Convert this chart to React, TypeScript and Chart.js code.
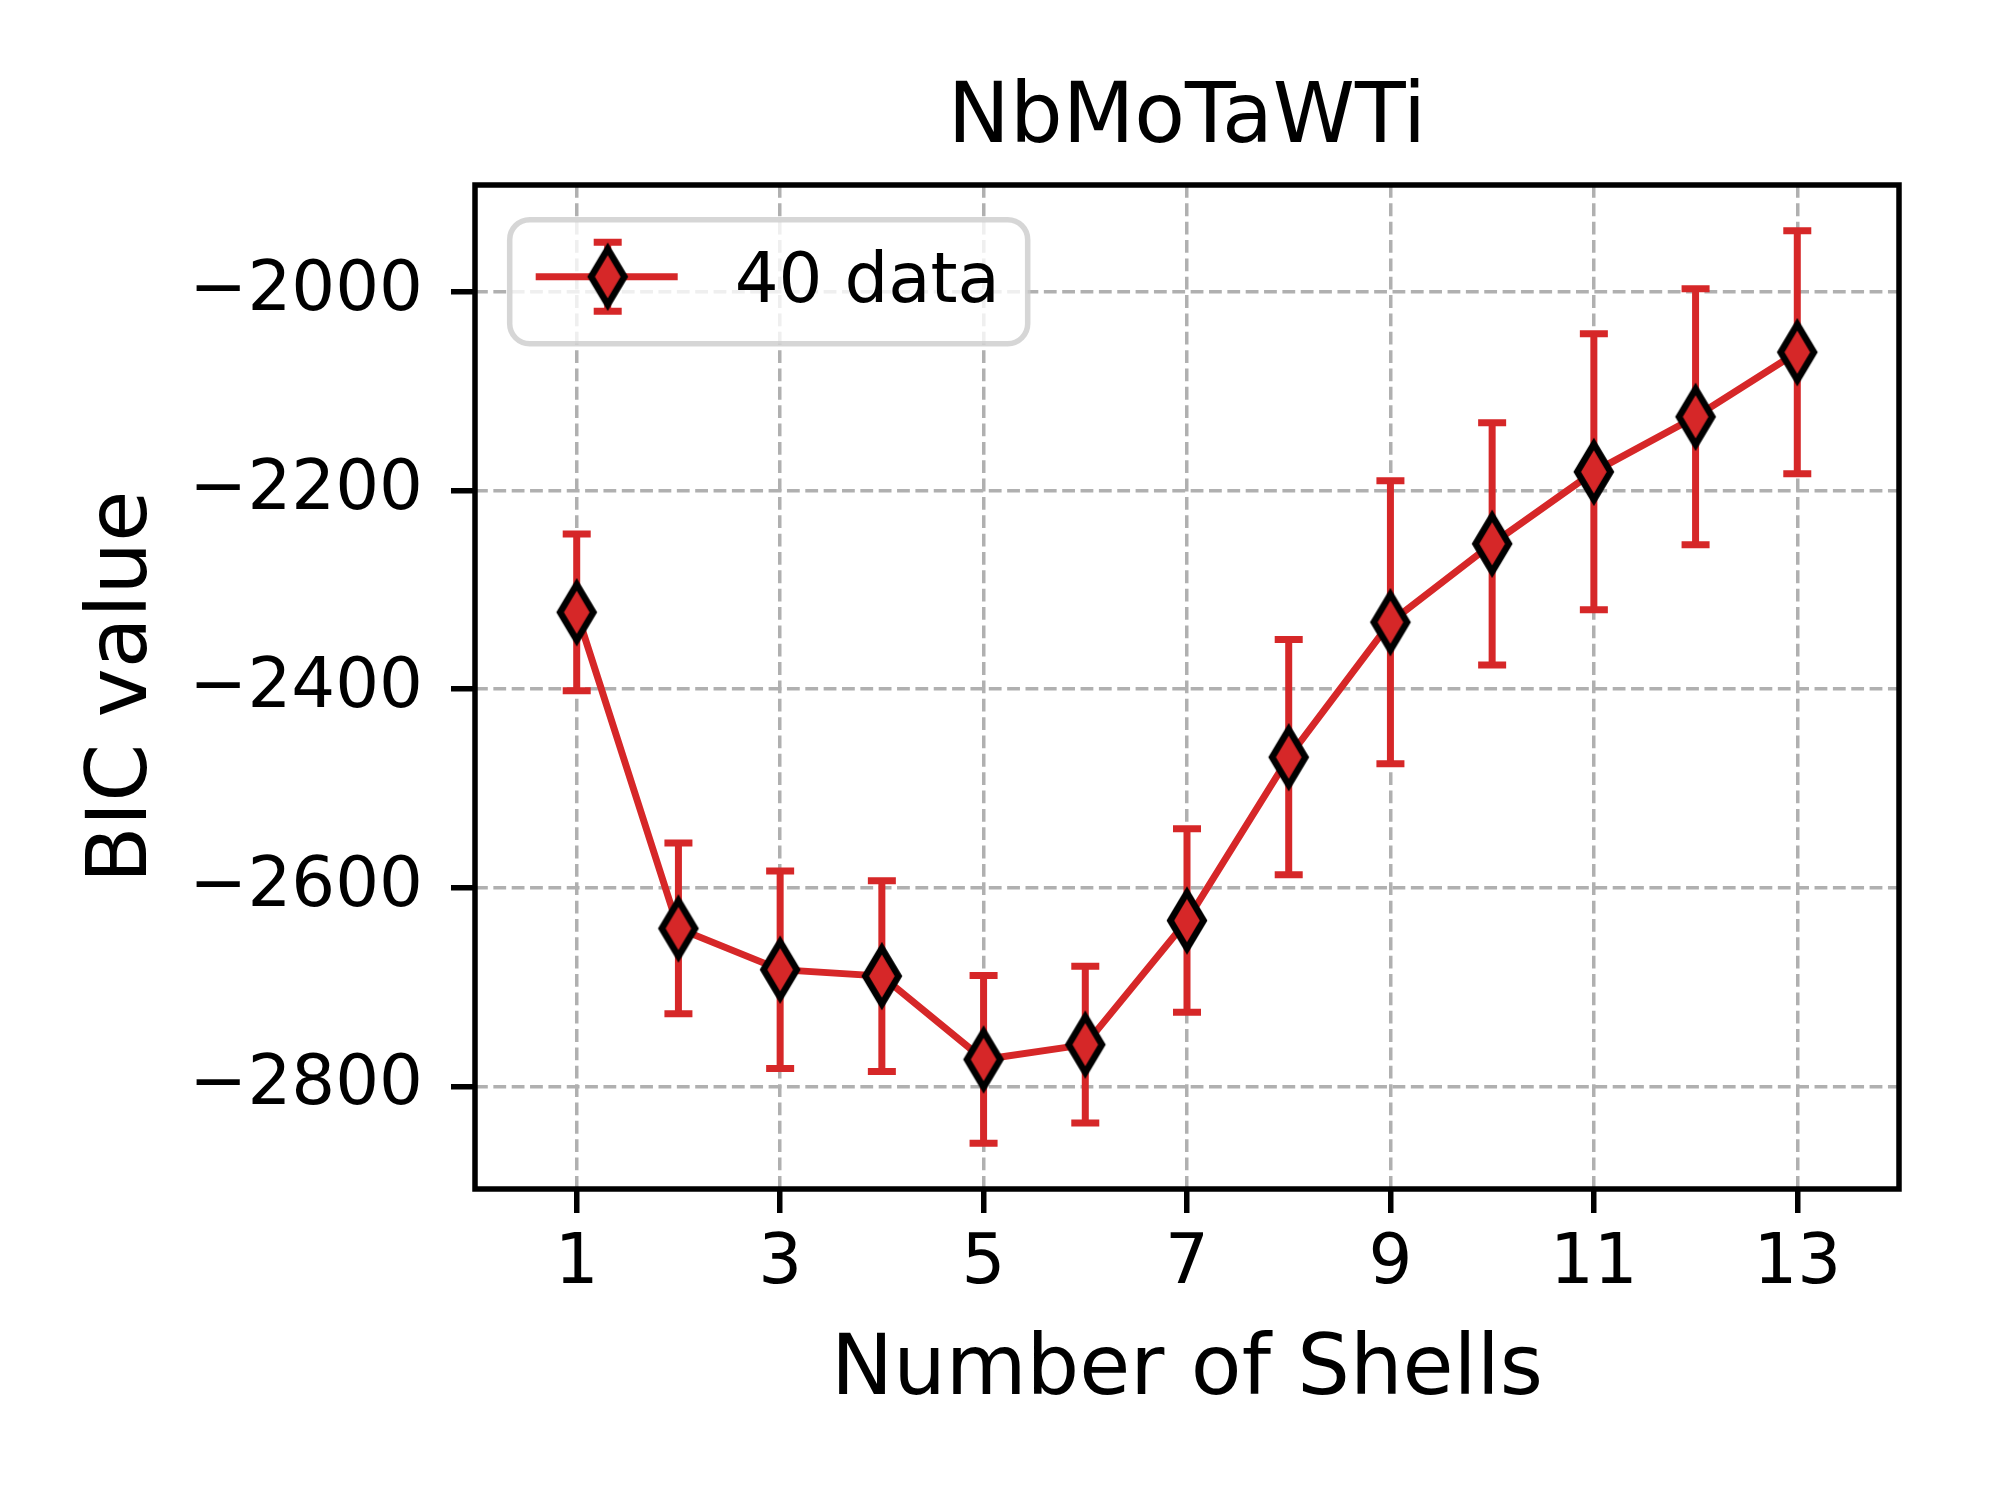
import React, { useEffect, useRef } from 'react';
import { Chart, registerables } from 'chart.js';

Chart.register(...registerables);

// values
const shellCounts = [1, 2, 3, 4, 5, 6, 7, 8, 9, 10, 11, 12, 13];
const bicMean = [-2322.5, -2641, -2682.5, -2689, -2773, -2758, -2633, -2468.5, -2332.5, -2253.5, -2181, -2125.5, -2060.5];
const bicStd = [79, 86, 99.5, 96, 84.5, 79, 92.5, 118.5, 142.5, 122, 139, 129, 122.5];
const xTickValues = [1, 3, 5, 7, 9, 11, 13];
const yTickValues = [-2800, -2600, -2400, -2200, -2000];
const seriesLabel = '40 data';
const chartTitle = 'NbMoTaWTi';
const xAxisLabel = 'Number of Shells';
const yAxisLabel = 'BIC value';

const RED = '#d62728';
const FONT = "'DejaVu Sans', sans-serif";

// matplotlib style 5% margins around the error bars
const lows = bicMean.map((m, i) => m - bicStd[i]);
const highs = bicMean.map((m, i) => m + bicStd[i]);
const yLo = Math.min(...lows);
const yHi = Math.max(...highs);
const yMin = yLo - 0.05 * (yHi - yLo);
const yMax = yHi + 0.05 * (yHi - yLo);

function makeDiamond(): HTMLCanvasElement {
  const w = 33.3;
  const h = 55.6;
  const c = document.createElement('canvas');
  c.width = 48;
  c.height = 72;
  const ctx = c.getContext('2d')!;
  ctx.translate(24, 36);
  ctx.beginPath();
  ctx.moveTo(0, -h / 2);
  ctx.lineTo(w / 2, 0);
  ctx.lineTo(0, h / 2);
  ctx.lineTo(-w / 2, 0);
  ctx.closePath();
  ctx.fillStyle = RED;
  ctx.fill();
  ctx.lineWidth = 6.5;
  ctx.lineJoin = 'miter';
  ctx.strokeStyle = '#000';
  ctx.stroke();
  return c;
}

function drawErrorBar(ctx: CanvasRenderingContext2D, px: number, top: number, bot: number) {
  ctx.beginPath();
  ctx.moveTo(px, top);
  ctx.lineTo(px, bot);
  ctx.moveTo(px - 14, top);
  ctx.lineTo(px + 14, top);
  ctx.moveTo(px - 14, bot);
  ctx.lineTo(px + 14, bot);
  ctx.stroke();
}

const errorBars = {
  id: 'errorBars',
  beforeDatasetsDraw(chart: any) {
    const { ctx, scales } = chart;
    ctx.save();
    ctx.strokeStyle = RED;
    ctx.lineWidth = 7;
    shellCounts.forEach((s, i) => {
      const px = scales.x.getPixelForValue(s);
      drawErrorBar(ctx, px, scales.y.getPixelForValue(highs[i]), scales.y.getPixelForValue(lows[i]));
    });
    ctx.restore();
  },
};

const frameAndLegend = {
  id: 'frameAndLegend',
  afterDatasetsDraw(chart: any) {
    const { ctx, chartArea } = chart;
    const { left, top, right, bottom } = chartArea;
    ctx.save();
    ctx.strokeStyle = '#000';
    ctx.lineWidth = 5.5;
    ctx.strokeRect(left, top, right - left, bottom - top);

    // legend box, upper left
    const bx = left + 34.7;
    const by = top + 34.7;
    const bw = 518;
    const bh = 124;
    ctx.beginPath();
    ctx.roundRect(bx, by, bw, bh, 20);
    ctx.fillStyle = 'rgba(255,255,255,0.8)';
    ctx.fill();
    ctx.lineWidth = 5.5;
    ctx.strokeStyle = 'rgba(204,204,204,0.8)';
    ctx.stroke();

    const cy = by + 57;
    ctx.strokeStyle = RED;
    ctx.lineWidth = 7;
    ctx.beginPath();
    ctx.moveTo(bx + 26, cy);
    ctx.lineTo(bx + 168, cy);
    ctx.stroke();
    const hx = bx + 98;
    drawErrorBar(ctx, hx, cy - 34.5, cy + 34.5);
    const marker = chart.data.datasets[0].pointStyle as HTMLCanvasElement;
    ctx.drawImage(marker, hx - marker.width / 2, cy - marker.height / 2);

    ctx.fillStyle = '#000';
    ctx.font = `69px ${FONT}`;
    ctx.textBaseline = 'alphabetic';
    ctx.textAlign = 'left';
    ctx.fillText(chart.data.datasets[0].label, bx + 225, by + 82);
    ctx.restore();
  },
};

const App: React.FC = () => {
  const canvasRef = useRef<HTMLCanvasElement | null>(null);
  const chartRef = useRef<Chart | null>(null);

  useEffect(() => {
    document.body.style.margin = '0';
    if (!canvasRef.current) return;
    if (chartRef.current) chartRef.current.destroy();

    const tickFont = { family: FONT, size: 69, lineHeight: 1 };
    const labelFont = { family: FONT, size: 83, lineHeight: 1 };

    chartRef.current = new Chart(canvasRef.current, {
      type: 'line',
      data: {
        datasets: [
          {
            label: seriesLabel,
            data: shellCounts.map((s, i) => ({ x: s, y: bicMean[i] })),
            borderColor: RED,
            borderWidth: 7,
            pointStyle: makeDiamond() as any,
            pointRadius: 30,
            tension: 0,
          },
        ],
      },
      options: {
        responsive: false,
        animation: false,
        devicePixelRatio: 1,
        layout: { padding: { left: 0, right: 101, top: 0, bottom: 0 } },
        plugins: {
          legend: { display: false },
          tooltip: { enabled: false },
          title: {
            display: true,
            text: chartTitle,
            fullSize: false,
            color: '#000',
            font: { ...labelFont, weight: 'normal' },
            padding: { top: 79, bottom: 23 },
          },
        },
        scales: {
          x: {
            type: 'linear',
            min: 0,
            max: 14,
            afterBuildTicks: (s: any) => {
              s.ticks = xTickValues.map((v) => ({ value: v }));
            },
            afterFit: (s: any) => {
              s.height = 311;
            },
            ticks: {
              color: '#000',
              font: tickFont,
              padding: 18,
              maxRotation: 0,
              autoSkip: false,
              callback: (v: any) => String(v),
            },
            grid: { color: '#b0b0b0', lineWidth: 3.5, tickLength: 24, tickColor: '#000', tickWidth: 5.5 },
            border: { display: false, dash: [12.8, 5.55] },
            title: { display: true, text: xAxisLabel, color: '#000', font: labelFont, padding: { top: 0, bottom: 86 } },
          },
          y: {
            type: 'linear',
            min: yMin,
            max: yMax,
            afterBuildTicks: (s: any) => {
              s.ticks = yTickValues.map((v) => ({ value: v }));
            },
            afterFit: (s: any) => {
              s.width = 475;
            },
            ticks: {
              color: '#000',
              font: tickFont,
              padding: 28,
              autoSkip: false,
              callback: (v: any) => (v < 0 ? '\u2212' + Math.abs(v) : String(v)),
            },
            grid: { color: '#b0b0b0', lineWidth: 3.5, tickLength: 24, tickColor: '#000', tickWidth: 5.5 },
            border: { display: false, dash: [12.8, 5.55] },
            title: { display: true, text: yAxisLabel, color: '#000', font: labelFont, padding: { top: 83, bottom: 0 } },
          },
        },
      },
      plugins: [errorBars, frameAndLegend],
    });

    return () => {
      if (chartRef.current) {
        chartRef.current.destroy();
        chartRef.current = null;
      }
    };
  }, []);

  return (
    <div style={{ width: 2000, height: 1500, background: '#fff' }}>
      <canvas ref={canvasRef} width={2000} height={1500} style={{ width: 2000, height: 1500 }} />
    </div>
  );
};

export default App;
